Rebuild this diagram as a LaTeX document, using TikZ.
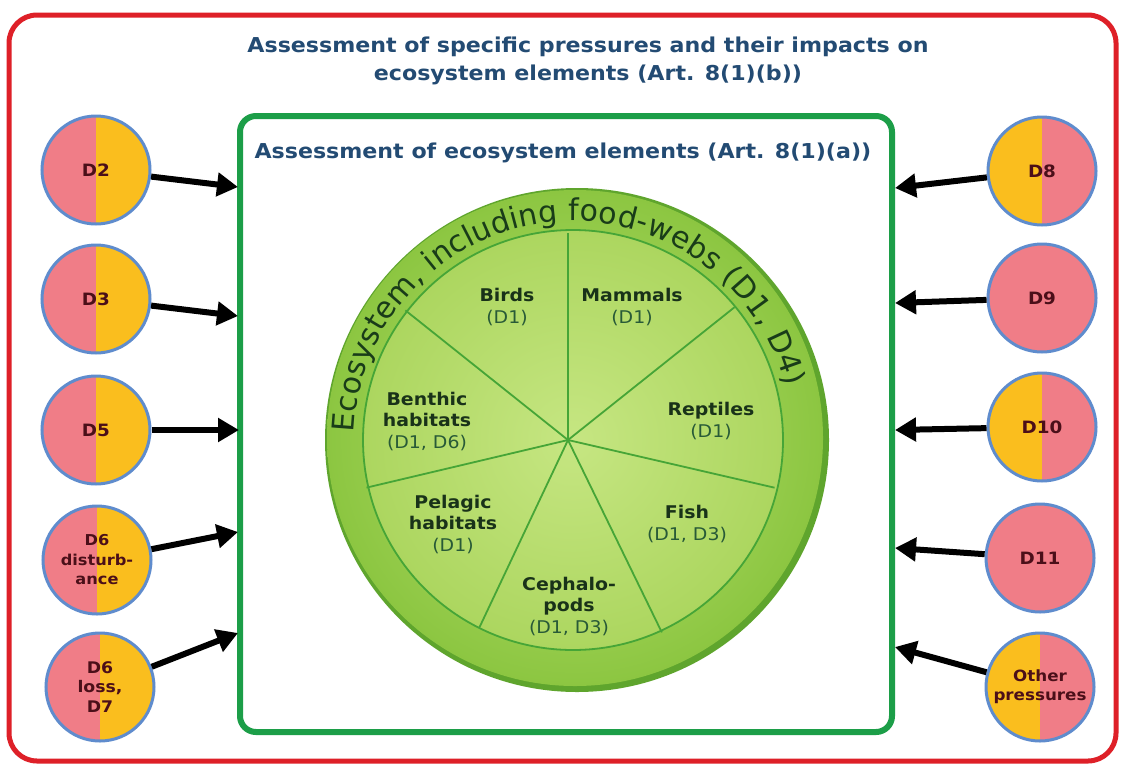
\documentclass[tikz,border=0pt]{standalone}
\usepackage{fontspec}
\setmainfont{DejaVu Sans}[FakeStretch=1.08]
\newfontfamily\ecofont{DejaVu Sans}
\usetikzlibrary{arrows.meta,decorations.text}
\definecolor{redframe}{RGB}{222,32,40}
\definecolor{greenframe}{RGB}{28,158,72}
\definecolor{titleblue}{RGB}{35,75,115}
\definecolor{ppink}{RGB}{240,125,135}
\definecolor{porange}{RGB}{250,190,30}
\definecolor{pborder}{RGB}{95,140,205}
\definecolor{ptext}{RGB}{75,15,25}
\definecolor{rimgreen}{RGB}{140,198,65}
\definecolor{rimlight}{RGB}{185,225,115}
\definecolor{rimedge}{RGB}{95,165,45}
\definecolor{piegreen}{RGB}{172,214,95}
\definecolor{pielight}{RGB}{198,230,130}
\definecolor{spoke}{RGB}{70,165,55}
\definecolor{labeldark}{RGB}{25,50,25}
\definecolor{labelsub}{RGB}{40,90,55}
\definecolor{ecotext}{RGB}{25,60,25}
\begin{document}
\begin{tikzpicture}[x=1pt,y=1pt,
  titletext/.style={text=titleblue, font=\bfseries\fontsize{20.5}{28}\selectfont, align=center},
  press/.style={circle, draw=pborder, line width=3, minimum size=108, inner sep=0pt, align=center, text=ptext, font=\bfseries\fontsize{17}{19.5}\selectfont},
  po/.style={press, path picture={\fill[ppink] (path picture bounding box.south west) rectangle (path picture bounding box.north); \fill[porange] (path picture bounding box.south) rectangle (path picture bounding box.north east);}},
  op/.style={press, path picture={\fill[porange] (path picture bounding box.south west) rectangle (path picture bounding box.north); \fill[ppink] (path picture bounding box.south) rectangle (path picture bounding box.north east);}},
  pp/.style={press, fill=ppink},
  arr/.style={line width=6, -{Triangle[length=21pt, width=23pt]}},
  lab/.style={align=center, text=labelsub, font=\fontsize{17.5}{21.5}\selectfont},
  spk/.style={spoke, line width=1.8}
]
\useasboundingbox (0,0) rectangle (1121,-766);
\fill[white] (0,0) rectangle (1121,-766);
% outer frame
\draw[redframe, line width=5, rounded corners=28] (9,-15) rectangle (1116,-761);
\node[titletext] (title) at (588,-61) {Assessment of specific pressures and their impacts on\\ecosystem elements (Art. 8(1)(b))};
% inner frame
\draw[greenframe, line width=6, rounded corners=16] (240,-116) rectangle (892,-732);
\node[titletext, anchor=west] (subtitle) at (251,-153) {Assessment of ecosystem elements (Art. 8(1)(a))};
% plate
\coordinate (pc) at (573,-440);
\coordinate (sc) at (568,-440);
\fill[rimedge] (577,-440) circle[radius=252];
\shade[inner color=rimlight, outer color=rimgreen] (575,-438) circle[radius=248];
\shade[inner color=pielight, outer color=piegreen] (pc) circle[radius=210];
\draw[spk] (pc) circle[radius=210];
\foreach \a/\l in {90/207,141.43/208,193.3/207,244.7/207,296/214,347/212,38.57/213}
  \draw[spk] (sc) -- ++(\a:\l);
\path[decorate, decoration={text along path, text={|\ecofont\fontsize{30}{32}\selectfont|Ecosystem, including food-webs (D1, D4)}, text align={fit to path}, text color=ecotext}]
  ([shift={(178:219)}]pc) arc[start angle=178, end angle=14, radius=219];
% sector labels
\node[lab] (birds) at (507,-307) {{\color{labeldark}\bfseries Birds}\\(D1)};
\node[lab] (mammals) at (632,-307) {{\color{labeldark}\bfseries Mammals}\\(D1)};
\node[lab] (benthic) at (427,-421) {{\color{labeldark}\bfseries Benthic}\\{\color{labeldark}\bfseries habitats}\\(D1, D6)};
\node[lab] (reptiles) at (711,-421) {{\color{labeldark}\bfseries Reptiles}\\(D1)};
\node[lab] (pelagic) at (453,-524) {{\color{labeldark}\bfseries Pelagic}\\{\color{labeldark}\bfseries habitats}\\(D1)};
\node[lab] (fish) at (687,-524) {{\color{labeldark}\bfseries Fish}\\(D1, D3)};
\node[lab] (cephalo) at (569,-606) {{\color{labeldark}\bfseries Cephalo-}\\{\color{labeldark}\bfseries pods}\\(D1, D3)};
% pressure circles left
\node[po] (d2) at (96,-170) {D2};
\node[po] (d3) at (96,-299) {D3};
\node[po] (d5) at (96,-430) {D5};
\node[po, font=\bfseries\fontsize{15}{19.5}\selectfont] (d6d) at (97,-560) {D6\\disturb-\\ance};
\node[po, font=\bfseries\fontsize{16}{19.5}\selectfont] (d6l) at (100,-687) {D6\\loss,\\D7};
% pressure circles right
\node[op] (d8) at (1042,-171) {D8};
\node[pp] (d9) at (1042,-298) {D9};
\node[op] (d10) at (1042,-427) {D10};
\node[pp] (d11) at (1040,-558) {D11};
\node[op, font=\bfseries\fontsize{15.5}{19}\selectfont] (other) at (1040,-687) {Other\\pressures};
% arrow targets on the green frame
\coordinate (t2) at (238,-187);
\coordinate (t3) at (238,-316);
\coordinate (t5) at (239,-430);
\coordinate (t6d) at (238,-532);
\coordinate (t6l) at (238,-633);
\coordinate (t8) at (895,-188);
\coordinate (t9) at (895,-303);
\coordinate (t10) at (895,-430);
\coordinate (t11) at (895,-548);
\coordinate (tot) at (895,-647);
\draw[arr] (d2) -- (t2);
\draw[arr] (d3) -- (t3);
\draw[arr] (d5) -- (t5);
\draw[arr] (d6d) -- (t6d);
\draw[arr] (d6l) -- (t6l);
\draw[arr] (d8) -- (t8);
\draw[arr] (d9) -- (t9);
\draw[arr] (d10) -- (t10);
\draw[arr] (d11) -- (t11);
\draw[arr] (other) -- (tot);
\end{tikzpicture}
\end{document}
